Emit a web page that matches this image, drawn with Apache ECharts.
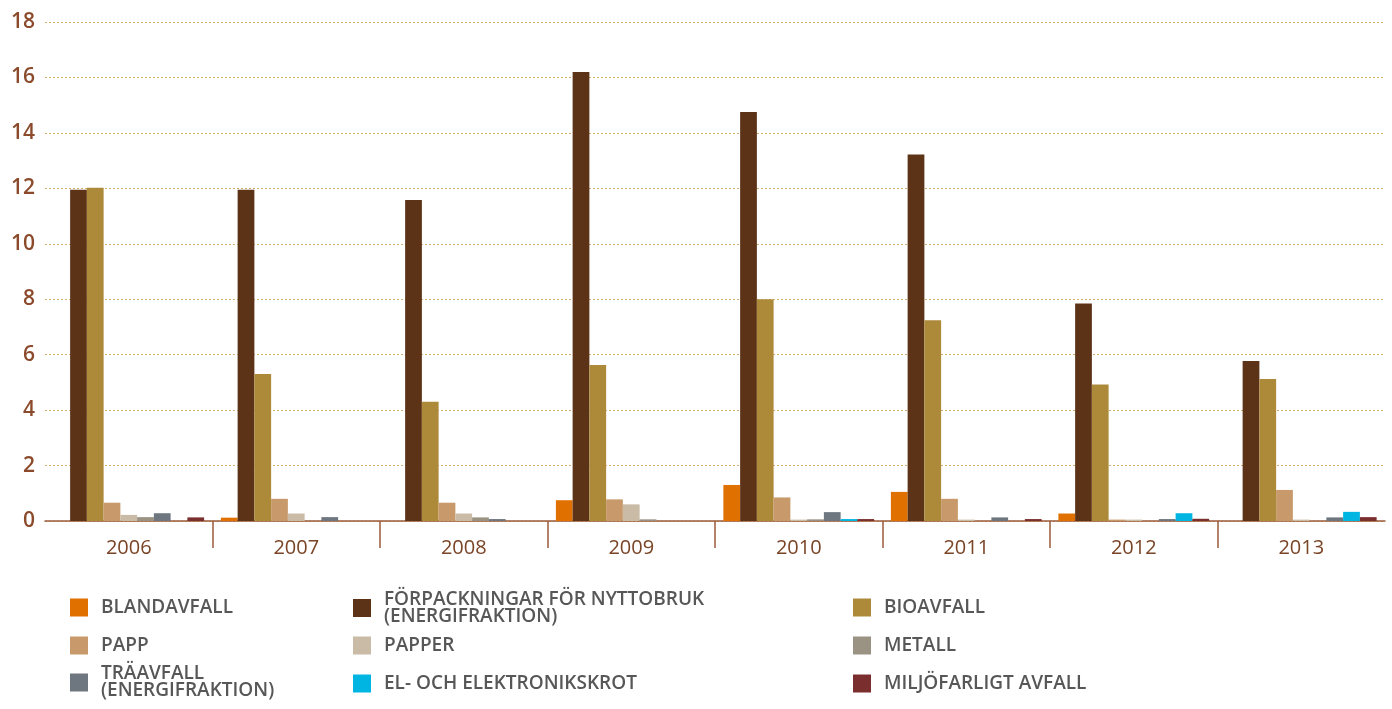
<!DOCTYPE html>
<html><head><meta charset="utf-8">
<script src="https://cdn.jsdelivr.net/npm/echarts@6/dist/echarts.min.js"></script>
<style>html,body{margin:0;padding:0;background:#fff}#c{width:1392px;height:709px}</style>
</head><body><div id="c"></div>
<script>
const years = ['2006','2007','2008','2009','2010','2011','2012','2013'];
const yTicks = [0, 18, 2];
const seriesNames = ['BLANDAVFALL','FÖRPACKNINGAR FÖR NYTTOBRUK\n(ENERGIFRAKTION)','BIOAVFALL','PAPP','PAPPER','METALL','TRÄAVFALL\n(ENERGIFRAKTION)','EL- OCH ELEKTRONIKSKROT','MILJÖFARLIGT AVFALL'];
const blandavfall   = [0,    0.12, 0,    0.75, 1.3,  1.05, 0.27, 0];
const forpackningar = [11.95,11.95,11.58,16.2, 14.75,13.22,7.85, 5.77];
const bioavfall     = [12.02,5.3,  4.3,  5.63, 8.0,  7.24, 4.92, 5.12];
const papp          = [0.66, 0.8,  0.66, 0.78, 0.85, 0.8,  0.05, 1.12];
const papper        = [0.22, 0.27, 0.27, 0.6,  0.05, 0.05, 0.05, 0.05];
const metall        = [0.14, 0,    0.13, 0.06, 0.06, 0,    0,    0];
const travfall      = [0.28, 0.14, 0.07, 0,    0.32, 0.13, 0.07, 0.13];
const elskrot       = [0,    0,    0,    0,    0.07, 0,    0.28, 0.33];
const miljofarligt  = [0.13, 0,    0,    0,    0.07, 0.07, 0.08, 0.14];
const seriesData = [blandavfall, forpackningar, bioavfall, papp, papper, metall, travfall, elskrot, miljofarligt];
const colors = ['#E07000','#5C3317','#AD8A3A','#C8996A','#C9BBA6','#9A9383','#6E7680','#00B5E2','#7B2E2E'];

// separators sit between adjacent years
const separatorCats = years.slice(1, -1);

const legendPos = [
  {left:70, top:598, pad:0}, {left:353, top:590, pad:0}, {left:853, top:598, pad:0},
  {left:70, top:636, pad:0}, {left:353, top:636, pad:0}, {left:853, top:636, pad:0},
  {left:70, top:657, pad:17}, {left:353, top:674, pad:0}, {left:853, top:674, pad:0}
];
const legends = seriesNames.map((n,i)=>({
  data:[n], left:legendPos[i].left, top:legendPos[i].top, padding:0,
  itemWidth:18, itemHeight:18, icon:'rect', selectedMode:false,
  textStyle:{fontFamily:'Open Sans', fontWeight:600, fontSize:19, color:'#575757', lineHeight:17, padding:[legendPos[i].pad,0,0,8]}
}));

const chart = echarts.init(document.getElementById('c'));
chart.setOption({
  animation:false,
  color: colors,
  grid:[
    {left:45, right:7, top:22, bottom:188, containLabel:false},
    {left:212.5, right:174.5, top:22, bottom:188, containLabel:false}
  ],
  legend: legends,
  xAxis:[{
    type:'category', data:years, boundaryGap:true, gridIndex:0,
    axisLine:{lineStyle:{color:'#9C5B3B', width:1.5}},
    axisTick:{show:false},
    axisLabel:{color:'#7A4426', fontSize:20, fontFamily:'Open Sans', margin:17}
  },{
    type:'category', data:separatorCats, boundaryGap:true, gridIndex:1,
    axisLine:{show:false},
    axisTick:{show:true, length:27, lineStyle:{color:'#9C5B3B', width:1.5}},
    axisLabel:{show:false}
  }],
  yAxis:[{
    type:'value', min:yTicks[0], max:yTicks[1], interval:yTicks[2], gridIndex:0,
    axisLine:{show:false}, axisTick:{show:false},
    splitLine:{lineStyle:{color:'#D4B06A', type:[2,2], width:1}},
    axisLabel:{color:'#8B4A2B', fontSize:21, fontWeight:600, fontFamily:'Open Sans', margin:10}
  },{
    type:'value', min:yTicks[0], max:yTicks[1], gridIndex:1, show:false
  }],
  series: seriesNames.map((n,i)=>({
    name:n, type:'bar', data:seriesData[i], barGap:'0%', barCategoryGap:'10%',
    xAxisIndex:0, yAxisIndex:0,
    itemStyle:{color:colors[i]}
  }))
});
</script></body></html>
